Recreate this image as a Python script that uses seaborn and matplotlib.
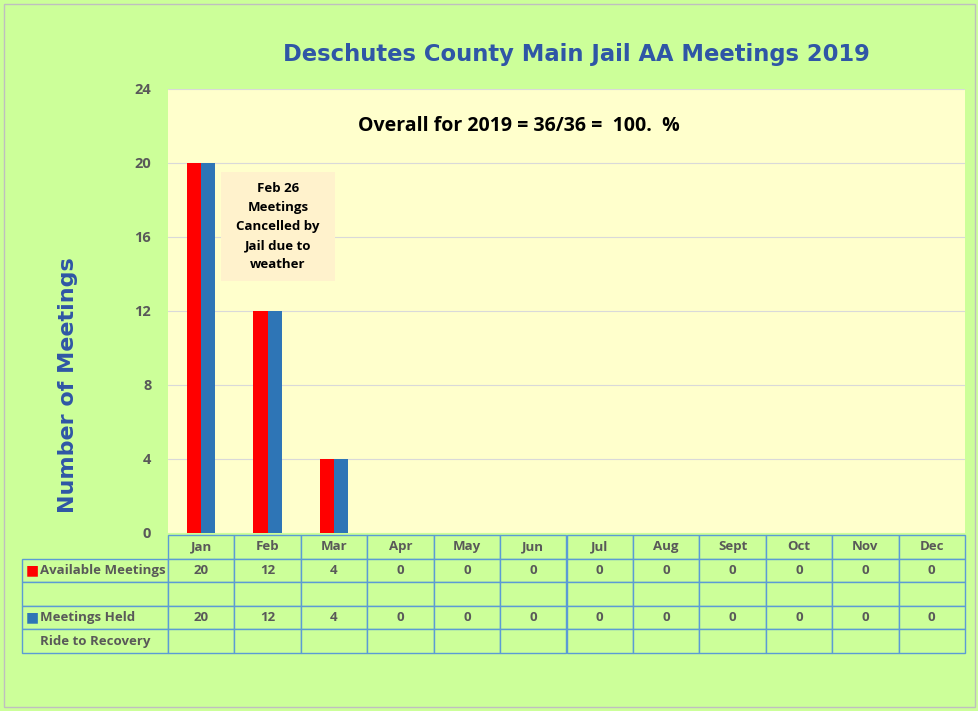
import pandas as pd
import matplotlib.pyplot as plt
import seaborn as sns
from matplotlib.table import Table
from matplotlib.patches import Rectangle

# Chart data
months = ['Jan', 'Feb', 'Mar', 'Apr', 'May', 'Jun', 'Jul', 'Aug', 'Sept', 'Oct', 'Nov', 'Dec']
available = [20, 12, 4, 0, 0, 0, 0, 0, 0, 0, 0, 0]
held = [20, 12, 4, 0, 0, 0, 0, 0, 0, 0, 0, 0]
series_names = ['Available Meetings', 'Meetings Held']
y_ticks = [0, 4, 8, 12, 16, 20, 24]

# Colours
BG_GREEN = '#CCFF99'
PLOT_YELLOW = '#FFFFCC'
NOTE_FILL = '#FFF2CC'
RED = '#FF0000'
BLUE = '#2E75B6'
GRID_BLUE = '#5B9BD5'
TEXT_GRAY = '#595959'
TITLE_BLUE = '#2F56A6'

sns.set_theme(style="white")
plt.rcParams['font.family'] = ['Open Sans', 'DejaVu Sans']

df = pd.DataFrame({
    'Month': months * 2,
    'Meetings': available + held,
    'Series': [series_names[0]] * len(months) + [series_names[1]] * len(months),
})

fig = plt.figure(figsize=(9.79, 7.11), dpi=100, facecolor=BG_GREEN)
W, H = 979, 711
ax = fig.add_axes([168 / W, 1 - 533 / H, 797 / W, 444 / H])
ax.set_facecolor(PLOT_YELLOW)

sns.barplot(data=df, x='Month', y='Meetings', hue='Series', order=months,
            palette=[RED, BLUE], saturation=1, width=0.43, linewidth=0, ax=ax)
ax.legend_.remove()

ax.set_ylim(0, 24)
ax.set_yticks(y_ticks)
ax.set_yticklabels([str(t) for t in y_ticks], color=TEXT_GRAY, fontweight='bold', fontsize=10.5)
ax.tick_params(axis='y', length=0, pad=12)
ax.set_xticks([])
ax.set_xlabel('')
ax.set_ylabel('')
ax.yaxis.grid(True, color='#D9D9D9', linewidth=0.8)
ax.set_axisbelow(True)
for s in ax.spines.values():
    s.set_visible(False)

# Title and axis label
fig.text(576 / W, 1 - 54 / H, 'Deschutes County Main Jail AA Meetings 2019',
         ha='center', va='center', fontsize=16.3, color=TITLE_BLUE,
         family=['DejaVu Sans'], fontweight='bold')
fig.text(68 / W, 1 - 385 / H, 'Number of Meetings', rotation=90,
         ha='center', va='center', fontsize=16, color=TITLE_BLUE,
         family=['DejaVu Sans'], fontweight='bold')

# Overall text
ax.text(0.44, 0.917, 'Overall for 2019 = 36/36 =  100.  %', transform=ax.transAxes,
        ha='center', va='center', fontsize=14, fontweight='bold', color='black')

# Note box
ax.add_patch(Rectangle((0.0665, 0.5676), 0.143, 0.2455, transform=ax.transAxes,
                       facecolor=NOTE_FILL, edgecolor='none', zorder=3))
ax.text(0.0665 + 0.143 / 2, 0.5676 + 0.2455 / 2,
        'Feb 26\nMeetings\nCancelled by\nJail due to\nweather',
        transform=ax.transAxes, ha='center', va='center', fontsize=9.5,
        fontweight='bold', color='black', linespacing=1.6, zorder=4)

# Data table under the chart
row_labels = ['Available Meetings', '', 'Meetings Held', 'Ride to Recovery']
row_values = [available, None, held, None]
label_w = 146 / 797
col_w = 1 / 12
row_h = 1 / 5
tab = Table(ax, bbox=[0, (533 - 653) / 444, 1, 118 / 444])
for j, m in enumerate(months):
    c = tab.add_cell(0, j, col_w, row_h, text=m, loc='center', facecolor=BG_GREEN, edgecolor=GRID_BLUE)
    c.get_text().set_color(TEXT_GRAY)
    c.get_text().set_fontweight('bold')
for i, (lab, vals) in enumerate(zip(row_labels, row_values), start=1):
    c = tab.add_cell(i, -1, label_w, row_h, text=lab, loc='left',
                     facecolor=BG_GREEN, edgecolor=GRID_BLUE)
    c.PAD = 0.12
    c.get_text().set_color(TEXT_GRAY)
    c.get_text().set_fontweight('bold')
    for j in range(len(months)):
        txt = str(vals[j]) if vals is not None else ''
        c = tab.add_cell(i, j, col_w, row_h, text=txt, loc='center',
                         facecolor=BG_GREEN, edgecolor=GRID_BLUE)
        c.get_text().set_color(TEXT_GRAY)
        c.get_text().set_fontweight('bold')
tab.auto_set_font_size(False)
tab.set_fontsize(9.5)
tab.set_clip_on(False)
ax.add_table(tab)

# Legend keys in the table
for i, col in [(1, RED), (3, BLUE)]:
    yc = (533 - 535 - (i + 0.5) * 23.6) / 444
    ax.text(-142 / 797, yc, '\u25a0', transform=ax.transAxes, color=col,
            ha='left', va='center', fontsize=10, family=['DejaVu Sans'], clip_on=False)

# Figure border
fig.patches.append(Rectangle((4 / W, 4 / H), 971 / W, 703 / H, transform=fig.transFigure,
                             fill=False, edgecolor='#BFBFBF', linewidth=1))

plt.savefig('out.png', dpi=100, facecolor=BG_GREEN)
